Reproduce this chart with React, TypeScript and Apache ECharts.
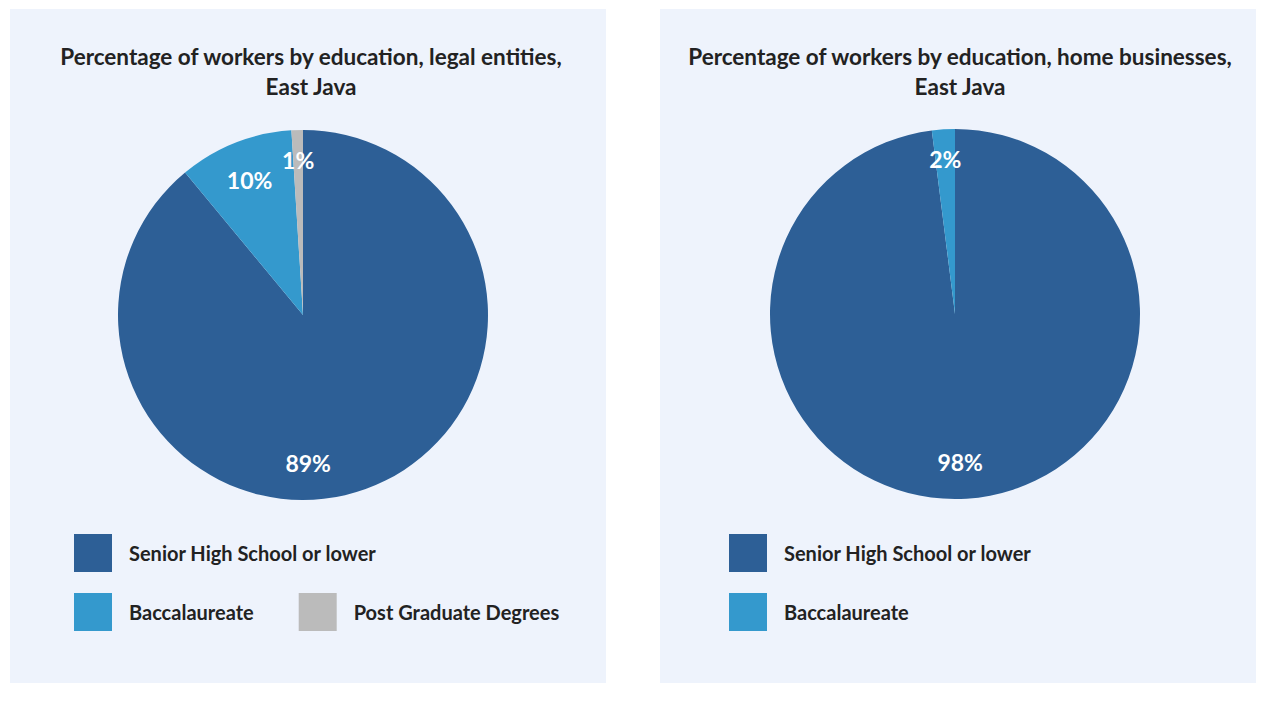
import React, { useEffect, useRef } from "react";
import * as echarts from "echarts";

const categories = ["Senior High School or lower", "Baccalaureate", "Post Graduate Degrees"];
const legalEntities = [89, 10, 1];
const homeBusinesses = [98, 2];
const titles = [
  "Percentage of workers by education, legal entities,\nEast Java",
  "Percentage of workers by education, home businesses,\nEast Java",
];
const colors = ["#2D5F96", "#3499CD", "#BBBBBB"];

const FONT = "Lato, 'Noto Sans', sans-serif";
const R = 185;
const centers = [
  [295, 307],
  [947, 306],
];
const panels = [
  { x: 2, w: 596 },
  { x: 652, w: 597 },
];
const titleCenters = [298, 947];

function labelPos(values: number[], idx: number, cx: number, cy: number) {
  const total = values.reduce((a, b) => a + b, 0);
  let before = 0;
  for (let i = 0; i < idx; i++) before += values[i];
  const frac = values[idx] / total;
  let ang = ((before + values[idx] / 2) / total) * 360;
  if (frac > 0.5) ang = 178;
  const rr = frac > 0.5 ? 148 : frac > 0.05 ? 145 : 155;
  const rad = (ang * Math.PI) / 180;
  return { x: cx + Math.sin(rad) * rr, y: cy - Math.cos(rad) * rr };
}

export default function App() {
  const ref = useRef<HTMLDivElement>(null);
  useEffect(() => {
    if (!ref.current) return;
    const chart = echarts.init(ref.current, null, { renderer: "svg" });
    const datasets = [legalEntities, homeBusinesses];
    const series = datasets.map((vals, si) => ({
      type: "pie",
      center: centers[si],
      radius: [0, R],
      startAngle: 90,
      clockwise: true,
      silent: true,
      data: vals.map((v, i) => ({
        name: categories[i],
        value: v,
        itemStyle: { color: colors[i] },
      })),
      label: {
        show: true,
        position: "inside",
        formatter: "{c}%",
        color: "#FFFFFF",
        fontFamily: FONT,
        fontWeight: "bold",
        fontSize: 23,
      },
      labelLine: { show: false },
      labelLayout: (p: any) => {
        const pos = labelPos(vals, p.dataIndex, centers[si][0], centers[si][1]);
        return { x: pos.x, y: pos.y, align: "center", verticalAlign: "middle" };
      },
    }));

    const legendBase = {
      orient: "horizontal",
      itemWidth: 38,
      itemHeight: 38,
      icon: "rect",
      selectedMode: false,
      textStyle: {
        fontFamily: FONT,
        fontWeight: "bold",
        fontSize: 20,
        color: "#222222",
        padding: [0, 0, 0, 12],
      },
    };

    chart.setOption({
      animation: false,
      graphic: panels.map((p) => ({
        type: "rect",
        shape: { x: p.x, y: 1, width: p.w, height: 674 },
        style: { fill: "#EEF3FC" },
        z: -10,
        silent: true,
      })),
      title: titles.map((t, i) => ({
        text: t,
        left: titleCenters[i],
        top: 28,
        textAlign: "center",
        textStyle: {
          fontFamily: FONT,
          fontWeight: "bold",
          fontSize: 22.5,
          lineHeight: 30,
          color: "#222222",
        },
      })),
      legend: [
        { ...legendBase, left: 61, top: 521, data: [categories[0]] },
        { ...legendBase, left: 61, top: 580, itemGap: 45, data: [categories[1], categories[2]] },
        { ...legendBase, left: 716, top: 521, data: [categories[0]] },
        { ...legendBase, left: 716, top: 580, data: [categories[1]] },
      ],
      series,
    });
    return () => chart.dispose();
  }, []);
  return <div ref={ref} style={{ width: 1248, height: 694 }} />;
}
